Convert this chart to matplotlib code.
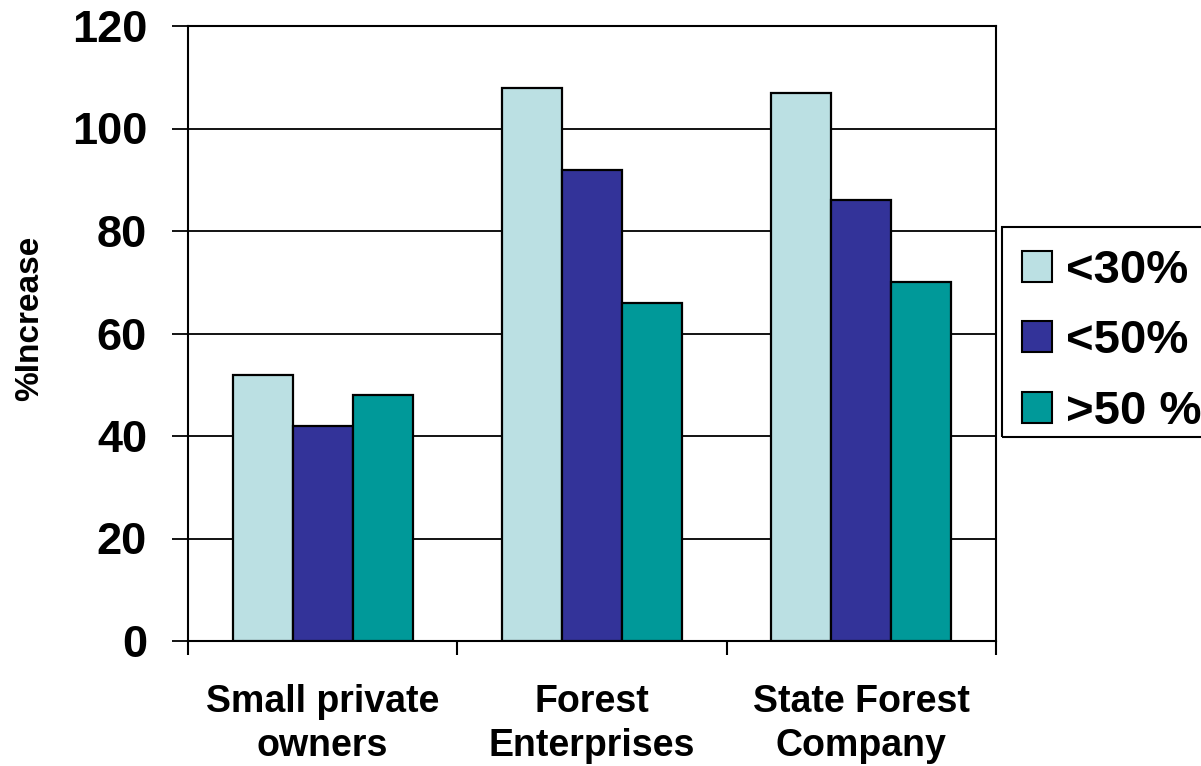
import matplotlib
matplotlib.use("Agg")
import matplotlib.pyplot as plt
from matplotlib.patches import Rectangle
import numpy as np

categories = ["Small private\nowners", "Forest\nEnterprises", "State Forest\nCompany"]
series_names = ["<30%", "<50%", ">50 %"]
series_values = [
    [52, 108, 107],
    [42, 92, 86],
    [48, 66, 70],
]
colors = ["#BBE0E3", "#333399", "#009999"]
yticks = [0, 20, 40, 60, 80, 100, 120]

plt.rcParams['font.family'] = ['Liberation Sans', 'DejaVu Sans']
plt.rcParams['font.weight'] = 'bold'

fig = plt.figure(figsize=(12.01, 7.66), dpi=100)
ax = fig.add_axes([188/1201, 1-641/766, (996-188)/1201, (641-26)/766])

x = np.arange(len(categories))
w = 0.223
for i, (name, vals, c) in enumerate(zip(series_names, series_values, colors)):
    ax.bar(x + (i-1)*w, vals, w, color=c, edgecolor='black', linewidth=1.6,
           label=name, zorder=3)

ax.set_xlim(-0.5, 2.5)
ax.set_ylim(0, 120)
ax.set_yticks(yticks)
ax.set_yticklabels([str(v) for v in yticks], fontsize=32.5, fontweight='bold')
ax.yaxis.grid(True, color='black', linewidth=1.3, zorder=0)
ax.set_axisbelow(True)

ax.set_xticks(x)
ax.set_xticklabels(categories, fontsize=27, fontweight='bold', linespacing=1.3)
ax.tick_params(axis='x', which='major', length=0, pad=31)
ax.set_xticks([-0.5, 0.5, 1.5, 2.5], minor=True)
ax.tick_params(axis='x', which='minor', length=10, width=1.5, direction='out')
ax.tick_params(axis='y', length=11.5, width=1.3, direction='out', pad=18)

for s in ax.spines.values():
    s.set_color('black')
    s.set_linewidth(1.5)

fig.text(30/1201, 1-318/766, '%Increase', rotation=90, ha='center', va='center',
         fontsize=24, fontweight='bold')

# legend frame drawn separately
fig.patches.append(Rectangle((1002/1201, 1-437/766), 0.3, 210/766,
                             transform=fig.transFigure, fill=False,
                             edgecolor='black', linewidth=1.5))
leg = fig.legend(loc='upper left', bbox_to_anchor=(1002/1201, 1-229/766),
                 prop={'size': 34, 'weight': 'bold'}, frameon=False,
                 handlelength=0.64, handleheight=0.64,
                 handletextpad=0.3, labelspacing=0.56, borderpad=0.42, borderaxespad=0)
for h in leg.legend_handles:
    h.set_edgecolor('black')
    h.set_linewidth(1.5)

fig.savefig("out.png", dpi=100)
